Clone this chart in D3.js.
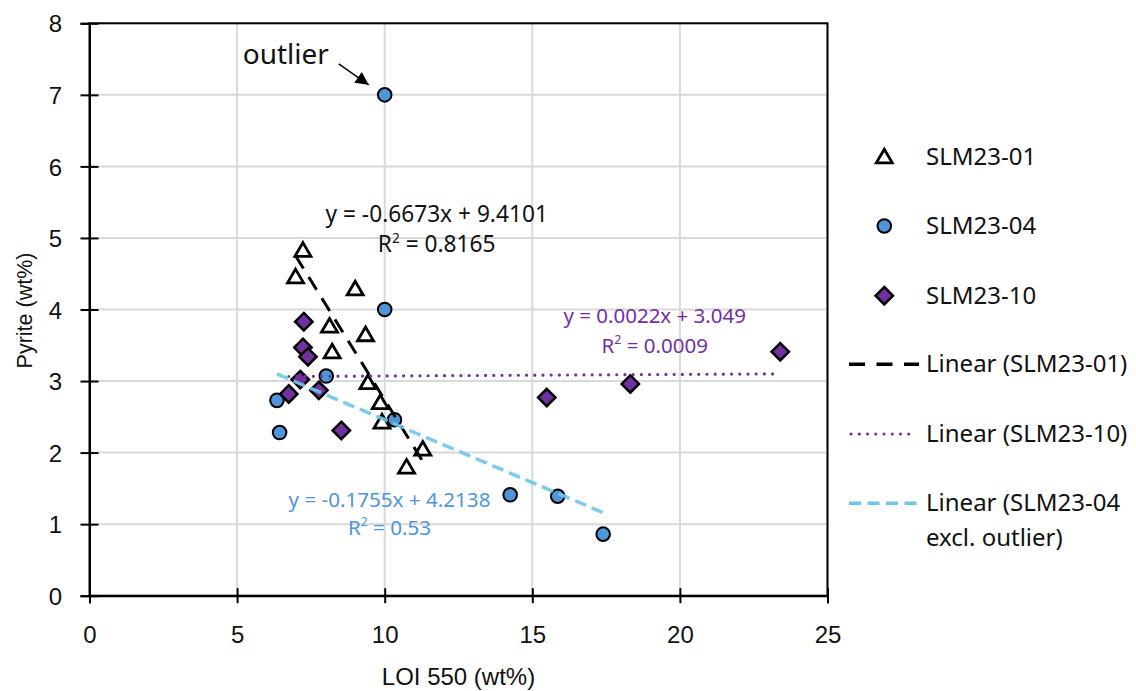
<!DOCTYPE html>
<html>
<head>
<meta charset="utf-8">
<script src="https://cdn.jsdelivr.net/npm/d3@7"></script>
<style>
  html, body { margin: 0; padding: 0; background: #fff; }
  svg { display: block; }
</style>
</head>
<body>
<svg id="chart" width="1136" height="691"></svg>
<script>
// ---- data ----
const xTicks = [0, 5, 10, 15, 20, 25];
const yTicks = [0, 1, 2, 3, 4, 5, 6, 7, 8];

// SLM23-01 : [LOI 550, Pyrite]
const slm01 = [
  [7.23, 4.83], [6.98, 4.46], [9.00, 4.29], [8.13, 3.77], [9.35, 3.65],
  [8.22, 3.41], [9.43, 2.98], [9.85, 2.70], [9.91, 2.43], [11.29, 2.05],
  [10.74, 1.80]
];
// SLM23-04 : [LOI 550, Pyrite]; the first point is the outlier
const slm04 = [
  [10.0, 7.00], [10.0, 4.00], [8.02, 3.07], [6.35, 2.73], [6.44, 2.28],
  [10.33, 2.46], [14.25, 1.41], [15.86, 1.39], [17.40, 0.86]
];
// SLM23-10 : [LOI 550, Pyrite]
const slm10 = [
  [7.26, 3.83], [7.23, 3.47], [7.40, 3.34], [7.14, 3.02], [6.75, 2.82],
  [7.77, 2.87], [8.53, 2.31], [15.49, 2.77], [18.32, 2.96], [23.40, 3.41]
];

// linear trend coefficients: [slope, intercept, R²]
const trend01 = [-0.6673, 9.4101, 0.8165];
const trend10 = [0.0022, 3.049, 0.0009];
const trend04 = [-0.1755, 4.2138, 0.53];

const seriesNames = ["SLM23-01", "SLM23-04", "SLM23-10"];
const trendNames = ["Linear (SLM23-01)", "Linear (SLM23-10)", "Linear (SLM23-04", "excl. outlier)"];

// ---- layout ----
const svg = d3.select("#chart");
const x = d3.scaleLinear().domain([0, 25]).range([89.5, 827.5]);
const y = d3.scaleLinear().domain([0, 8]).range([595.7, 23.3]);

const C = {
  blue: "#4e95d9",
  purple: "#7030a0",
  cyan: "#6fc6e8",
  cyanText: "#4e95d9",
  grid: "#d9d9d9"
};
const tickFont = "'Liberation Sans', Arial, sans-serif";
const labelFont = "'Noto Sans', 'Open Sans', sans-serif";

// gridlines
const grid = svg.append("g");
grid.selectAll("line.h").data(yTicks.slice(1)).join("line")
  .attr("x1", x(0)).attr("x2", x(25))
  .attr("y1", d => y(d)).attr("y2", d => y(d))
  .attr("stroke", C.grid).attr("stroke-width", 2);
grid.selectAll("line.v").data(xTicks.slice(1)).join("line")
  .attr("y1", y(0)).attr("y2", y(8))
  .attr("x1", d => x(d)).attr("x2", d => x(d))
  .attr("stroke", C.grid).attr("stroke-width", 2);

// plot frame
svg.append("rect")
  .attr("x", x(0)).attr("y", y(8))
  .attr("width", x(25) - x(0)).attr("height", y(0) - y(8))
  .attr("fill", "none").attr("stroke", "#000").attr("stroke-width", 2);

// axes, with tick marks crossing the axis line
const xAxis = svg.append("g").attr("transform", `translate(0,${y(0)})`)
  .call(d3.axisBottom(x).tickValues(xTicks).tickSizeOuter(0).tickSize(7.5));
xAxis.select(".domain").attr("stroke", "#000").attr("stroke-width", 2);
xAxis.selectAll(".tick line").attr("y1", -7.5).attr("y2", 7.5).attr("stroke", "#000").attr("stroke-width", 2);
xAxis.selectAll(".tick text")
  .attr("y", 47).attr("dy", null)
  .attr("font-family", tickFont).attr("font-size", 24).attr("fill", "#111");

const yAxis = svg.append("g").attr("transform", `translate(${x(0)},0)`)
  .call(d3.axisLeft(y).tickValues(yTicks).tickSizeOuter(0).tickSize(9));
yAxis.select(".domain").attr("stroke", "#000").attr("stroke-width", 2);
yAxis.selectAll(".tick line").attr("x1", -9).attr("x2", 9).attr("stroke", "#000").attr("stroke-width", 2);
yAxis.selectAll(".tick text")
  .attr("x", -27.5).attr("dy", "0.36em")
  .attr("font-family", tickFont).attr("font-size", 24).attr("fill", "#111");

// axis titles
svg.append("text")
  .attr("x", (x(0) + x(25)) / 2).attr("y", 685)
  .attr("text-anchor", "middle")
  .attr("font-family", tickFont).attr("font-size", 24).attr("fill", "#111")
  .text("LOI 550 (wt%)");
svg.append("text")
  .attr("transform", "translate(32,310.5) rotate(-90)")
  .attr("text-anchor", "middle")
  .attr("font-family", tickFont).attr("font-size", 21.5).attr("fill", "#111")
  .text("Pyrite (wt%)");

// marker shapes
const triPath = "M0,-7.5L8,6.2L-8,6.2Z";
const diaPath = "M0,-8.7L8.7,0L0,8.7L-8.7,0Z";

function drawTriangles(g, pts) {
  g.selectAll("path.tri").data(pts).join("path")
    .attr("class", "tri")
    .attr("transform", d => `translate(${x(d[0])},${y(d[1])})`)
    .attr("d", triPath)
    .attr("fill", "#fff").attr("stroke", "#000").attr("stroke-width", 2.8)
    .attr("stroke-linejoin", "miter");
}
function drawCircles(g, pts) {
  g.selectAll("circle").data(pts).join("circle")
    .attr("cx", d => x(d[0])).attr("cy", d => y(d[1])).attr("r", 6.8)
    .attr("fill", C.blue).attr("stroke", "#000").attr("stroke-width", 2);
}
function drawDiamonds(g, pts) {
  g.selectAll("path.dia").data(pts).join("path")
    .attr("class", "dia")
    .attr("transform", d => `translate(${x(d[0])},${y(d[1])})`)
    .attr("d", diaPath)
    .attr("fill", C.purple).attr("stroke", "#000").attr("stroke-width", 2.5);
}

const marks = svg.append("g");
drawCircles(marks.append("g"), slm04);
drawTriangles(marks.append("g"), slm01);
drawDiamonds(marks.append("g"), slm10);

// trend lines span the x-range of each fitted series
function trendLine(coef, pts) {
  const [x0, x1] = d3.extent(pts, d => d[0]);
  return [[x0, coef[0] * x0 + coef[1]], [x1, coef[0] * x1 + coef[1]]];
}
const line = d3.line().x(d => x(d[0])).y(d => y(d[1]));
const outlier = slm04[0];
const slm04Fit = slm04.slice(1);

svg.append("path").datum(trendLine(trend01, slm01)).attr("d", line)
  .attr("fill", "none").attr("stroke", "#000").attr("stroke-width", 3)
  .attr("stroke-dasharray", "15,10");
svg.append("path").datum(trendLine(trend10, slm10)).attr("d", line)
  .attr("fill", "none").attr("stroke", C.purple).attr("stroke-width", 3.2)
  .attr("stroke-linecap", "round").attr("stroke-dasharray", "0,8.2");
svg.append("path").datum(trendLine(trend04, slm04Fit)).attr("d", line)
  .attr("fill", "none").attr("stroke", C.cyan).attr("stroke-width", 3.5)
  .attr("stroke-dasharray", "12,6").attr("opacity", 0.9);

// trend equation labels
function fmtEq(c) {
  const s = c[0] < 0 ? "-" + Math.abs(c[0]) : String(c[0]);
  return `y = ${s}x + ${c[1]}`;
}
function eqLabel(coef, cx, by, gap, size, color) {
  const g = svg.append("g").attr("font-family", labelFont).attr("font-size", size).attr("fill", color);
  g.append("text").attr("x", cx).attr("y", by).attr("text-anchor", "middle").text(fmtEq(coef));
  const t = g.append("text").attr("x", cx).attr("y", by + gap).attr("text-anchor", "middle");
  t.append("tspan").text("R");
  t.append("tspan").attr("font-size", size * 0.6).attr("dy", -size * 0.42).text("2");
  t.append("tspan").attr("dy", size * 0.42).text(" = " + coef[2]);
}
eqLabel(trend01, 436.7, 221.7, 30.6, 22.7, "#111");
eqLabel(trend10, 654.7, 323.3, 29.4, 20.5, C.purple);
eqLabel(trend04, 389.5, 507.3, 27.7, 20.6, C.cyanText);

// outlier annotation
const ox = x(outlier[0]), oy = y(outlier[1]);
svg.append("defs").append("marker")
  .attr("id", "arrowHead").attr("viewBox", "0 0 10 10")
  .attr("refX", 10).attr("refY", 5)
  .attr("markerWidth", 15).attr("markerHeight", 13)
  .attr("markerUnits", "userSpaceOnUse")
  .attr("orient", "auto")
  .append("path").attr("d", "M0,0L10,5L0,10Z").attr("fill", "#000");
svg.append("line")
  .attr("x1", ox - 46).attr("y1", oy - 31)
  .attr("x2", ox - 16).attr("y2", oy - 10)
  .attr("stroke", "#000").attr("stroke-width", 1.5)
  .attr("marker-end", "url(#arrowHead)");
svg.append("text")
  .attr("x", ox - 142).attr("y", oy - 31)
  .attr("font-family", labelFont).attr("font-size", 28).attr("fill", "#111")
  .text("outlier");

// legend
const lg = svg.append("g").attr("font-family", labelFont).attr("font-size", 24).attr("fill", "#111");
const lx = 884.3, tx = 926;
const rowY = [156.7, 226, 295.7, 364.3, 434, 503.3];

lg.append("path").attr("transform", `translate(${lx},${rowY[0]})`).attr("d", triPath)
  .attr("fill", "#fff").attr("stroke", "#000").attr("stroke-width", 2.8);
lg.append("circle").attr("cx", lx).attr("cy", rowY[1]).attr("r", 6.8)
  .attr("fill", C.blue).attr("stroke", "#000").attr("stroke-width", 2);
lg.append("path").attr("transform", `translate(${lx},${rowY[2]})`).attr("d", diaPath)
  .attr("fill", C.purple).attr("stroke", "#000").attr("stroke-width", 2.5);
seriesNames.forEach((n, i) => lg.append("text").attr("x", tx).attr("y", rowY[i] + 8).text(n));

lg.append("line").attr("x1", 849).attr("x2", 919).attr("y1", rowY[3]).attr("y2", rowY[3])
  .attr("stroke", "#000").attr("stroke-width", 3.5).attr("stroke-dasharray", "16,11.5");
lg.append("line").attr("x1", 851).attr("x2", 917).attr("y1", rowY[4]).attr("y2", rowY[4])
  .attr("stroke", C.purple).attr("stroke-width", 3.2).attr("stroke-linecap", "round")
  .attr("stroke-dasharray", "0,8.25");
lg.append("line").attr("x1", 849).attr("x2", 919).attr("y1", rowY[5]).attr("y2", rowY[5])
  .attr("stroke", C.cyan).attr("stroke-width", 3.5).attr("stroke-dasharray", "12,6.5");
lg.append("text").attr("x", tx).attr("y", rowY[3] + 8).text(trendNames[0]);
lg.append("text").attr("x", tx).attr("y", rowY[4] + 8).text(trendNames[1]);
lg.append("text").attr("x", tx).attr("y", rowY[5] + 8).text(trendNames[2]);
lg.append("text").attr("x", tx).attr("y", rowY[5] + 42.5).text(trendNames[3]);
</script>
</body>
</html>
